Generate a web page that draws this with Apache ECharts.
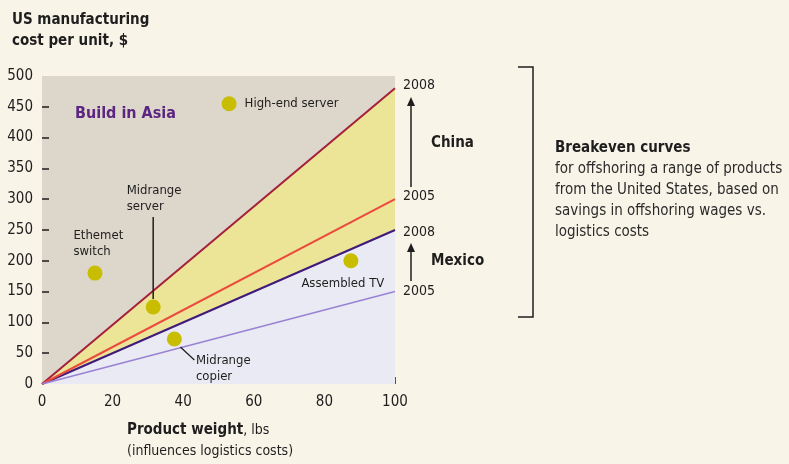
<!DOCTYPE html>
<html>
<head>
<meta charset="utf-8">
<script src="https://cdn.jsdelivr.net/npm/echarts@6/dist/echarts.min.js"></script>
<style>
html, body { margin: 0; padding: 0; background: #f9f4e8; }
#main { width: 789px; height: 464px; }
</style>
</head>
<body>
<div id="main"></div>
<script>
// breakeven curves: cost at weight 0 and 100 lbs
var weights = [0, 100];
var china2008 = [0, 480];
var china2005 = [0, 300];
var mexico2008 = [0, 250];
var mexico2005 = [0, 150];

// products
var productNames = ['High-end server', 'Ethemet\nswitch', 'Midrange\nserver', 'Midrange\ncopier', 'Assembled TV'];
var productWeight = [53, 15, 31.5, 37.5, 87.5];
var productCost = [455, 180, 125, 73, 200];

// axis ticks
var xTicks = [20, 40, 60, 80, 100];
var yTicks = [50, 100, 150, 200, 250, 300, 350, 400, 450];

var F = '"Liberation Sans Narrow", "DejaVu Sans Condensed", "Liberation Sans", sans-serif';
var INK = '#1e1e1e';

function pairs(ys) {
    return weights.map(function (w, i) { return [w, ys[i]]; });
}

// label placement per product (relative to the dot box)
var labelPos = [
    { position: 'right', distance: 8 },
    { position: [-14, -38], align: 'left', verticalAlign: 'top' },
    { position: [-19, -117], align: 'left', verticalAlign: 'top' },
    { position: [29, 21], align: 'left', verticalAlign: 'top' },
    { position: [-42, 22], align: 'left', verticalAlign: 'top' }
];

var scatterData = productNames.map(function (n, i) {
    return {
        name: n,
        value: [productWeight[i], productCost[i]],
        label: labelPos[i]
    };
});

var chart = echarts.init(document.getElementById('main'));

chart.setOption({
    backgroundColor: '#f9f4e8',
    animation: false,
    grid: {
        left: 42, right: 394, top: 76, bottom: 80,
        show: true, backgroundColor: '#ddd6ca', borderWidth: 0,
        outerBoundsMode: 'none'
    },
    xAxis: {
        type: 'value', min: 0, max: 100, interval: 20,
        axisLine: { show: false },
        axisTick: { show: true, inside: true, length: 7, customValues: xTicks, lineStyle: { color: INK, width: 1.5 } },
        axisLabel: { color: INK, fontFamily: F, fontSize: 15, margin: 11 },
        splitLine: { show: false }
    },
    yAxis: {
        type: 'value', min: 0, max: 500, interval: 50,
        axisLine: { show: false },
        axisTick: { show: true, inside: true, length: 7, customValues: yTicks, lineStyle: { color: INK, width: 1.5 } },
        axisLabel: { color: INK, fontFamily: F, fontSize: 15, margin: 9 },
        splitLine: { show: false }
    },
    series: [
        {
            type: 'line', data: pairs(china2008), symbol: 'none',
            lineStyle: { color: '#a51f3c', width: 2 },
            areaStyle: { color: '#ece497', opacity: 1 }
        },
        {
            type: 'line', data: pairs(mexico2008), symbol: 'none',
            lineStyle: { color: '#3f1a7a', width: 2 },
            areaStyle: { color: '#e9eaf3', opacity: 1 }
        },
        {
            type: 'line', data: pairs(china2005), symbol: 'none',
            lineStyle: { color: '#ec4a3c', width: 2 }
        },
        {
            type: 'line', data: pairs(mexico2005), symbol: 'none',
            lineStyle: { color: '#9a82d2', width: 1.5 }
        },
        {
            type: 'scatter', data: scatterData, symbolSize: 15,
            itemStyle: { color: '#c8bd00', opacity: 1 },
            label: {
                show: true, formatter: '{b}', color: INK,
                fontFamily: F, fontSize: 13, lineHeight: 16
            },
            z: 5
        }
    ]
});

// leader lines from the dots
var server = chart.convertToPixel({ seriesIndex: 4 }, [productWeight[2], productCost[2]]);
var copier = chart.convertToPixel({ seriesIndex: 4 }, [productWeight[3], productCost[3]]);

function ln(x1, y1, x2, y2, w) {
    return { type: 'line', shape: { x1: x1, y1: y1, x2: x2, y2: y2 }, style: { stroke: INK, lineWidth: w || 1.5 }, z: 10 };
}
function arrowHead(x, y) {
    return { type: 'polygon', shape: { points: [[x, y], [x - 4, y + 9], [x + 4, y + 9]] }, style: { fill: INK }, z: 10 };
}

var boldBig = 'bold 16px ' + F;
var g = [
    // title
    { type: 'text', left: 12, top: 10, style: { text: 'US manufacturing\ncost per unit, $', font: 'bold 15px ' + F, fill: INK, lineHeight: 21 } },
    // x axis name
    { type: 'text', left: 127, top: 423, style: {
        text: '{b|Product weight}{n|, lbs}\n{n|(influences logistics costs)}',
        rich: { b: { font: 'bold 15px ' + F, fill: INK, lineHeight: 21 }, n: { font: '14px ' + F, fill: INK, lineHeight: 21 } }
    } },
    // region labels
    { type: 'text', left: 75, top: 106, style: { text: 'Build in Asia', font: boldBig, fill: '#5b2581' } },
    { type: 'text', left: 284, top: 189, style: { text: 'Build in\nMexico', font: boldBig, fill: '#ab832c', lineHeight: 19 } },
    { type: 'text', left: 283, top: 331, style: { text: 'Build in\nUnited States', font: boldBig, fill: '#3d3d8f', lineHeight: 18 } },
    // leader lines
    ln(server[0], server[1] - 8, server[0], server[1] - 90, 1.5),
    ln(copier[0] + 6, copier[1] + 8, copier[0] + 20, copier[1] + 21, 1.2),
    // year markers
    { type: 'text', left: 403, top: 78, style: { text: '2008', font: '14px ' + F, fill: INK } },
    ln(411, 187, 411, 104),
    arrowHead(411, 97),
    { type: 'text', left: 403, top: 189, style: { text: '2005', font: '14px ' + F, fill: INK } },
    { type: 'text', left: 431, top: 136, style: { text: 'China', font: 'bold 15px ' + F, fill: INK } },
    { type: 'text', left: 403, top: 225, style: { text: '2008', font: '14px ' + F, fill: INK } },
    ln(411, 281, 411, 250),
    arrowHead(411, 243),
    { type: 'text', left: 403, top: 284, style: { text: '2005', font: '14px ' + F, fill: INK } },
    { type: 'text', left: 431, top: 254, style: { text: 'Mexico', font: 'bold 15px ' + F, fill: INK } },
    // bracket
    { type: 'polyline', shape: { points: [[518, 67], [533, 67], [533, 317], [518, 317]] }, style: { stroke: INK, lineWidth: 1.5, fill: null } },
    // note
    { type: 'text', left: 555, top: 141, style: {
        text: '{b|Breakeven curves}\n{n|for offshoring a range of products}\n{n|from the United States, based on}\n{n|savings in offshoring wages vs.}\n{n|logistics costs}',
        rich: { b: { font: 'bold 15px ' + F, fill: INK, lineHeight: 21 }, n: { font: '15px ' + F, fill: '#2a2a2a', lineHeight: 21 } }
    } }
];

chart.setOption({ graphic: g });
</script>
</body>
</html>
